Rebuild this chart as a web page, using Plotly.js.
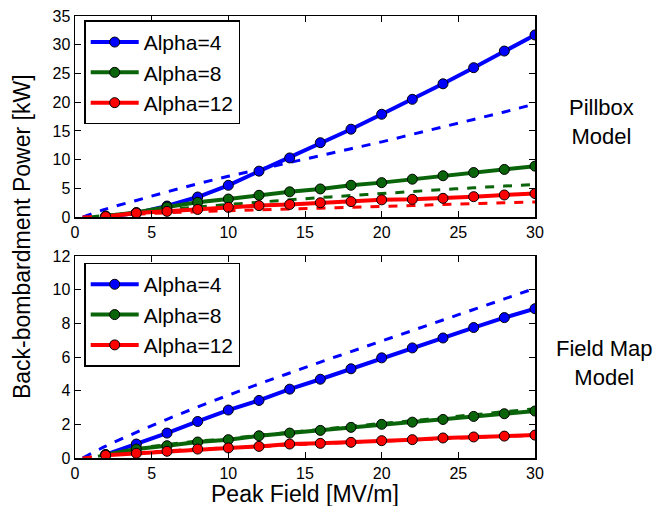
<!DOCTYPE html>
<html>
<head>
<meta charset="utf-8">
<script src="https://cdn.plot.ly/plotly-3.0.1.min.js"></script>
<style>html,body{margin:0;padding:0;background:#fff;}#chart{width:659px;height:506px;}</style>
</head>
<body>
<div id="chart"></div>
<script>
// Peak field sample points (MV/m)
const fieldPts = [2,4,6,8,10,12,14,16,18,20,22,24,26,28,30];

// Pillbox model (top panel), solid lines with markers
const pill_a4  = [0.1,0.7,1.93,3.5,5.54,8.0,10.3,12.95,15.3,17.9,20.5,23.2,26.0,28.9,31.7];
const pill_a8  = [0.2,0.8,1.75,2.57,3.15,3.8,4.4,4.9,5.54,6.0,6.6,7.2,7.76,8.3,8.87];
const pill_a12 = [0.1,0.7,1.0,1.34,1.7,2.0,2.2,2.5,2.7,3.0,3.1,3.27,3.56,3.85,4.1];

// Pillbox model, dashed curves
const pillDashX_a4  = [0.5,2,4,6,8,10,12,14,16,18,20,22,24,26,28,30];
const pillDash_a4   = [0,1.4,2.9,4.4,5.8,7.1,8.3,9.5,10.7,11.9,13.1,14.4,15.7,17.0,18.3,19.7];
const pillDashX_a8  = [1,2,4,6,8,10,12,14,16,18,20,22,24,26,28,30];
const pillDash_a8   = [0,0.3,0.8,1.3,1.75,2.2,2.6,3.0,3.4,3.75,4.1,4.45,4.8,5.1,5.4,5.67];
const pillDashX_a12 = [0.5,2,4,6,8,10,12,14,16,18,20,22,24,26,28,30];
const pillDash_a12  = [0,0.2,0.5,0.75,0.95,1.1,1.25,1.4,1.55,1.7,1.87,2.0,2.2,2.35,2.5,2.63];

// Field map model (bottom panel), solid lines with markers
const fmap_a4  = [0.2,0.83,1.48,2.17,2.85,3.42,4.09,4.68,5.3,5.95,6.54,7.13,7.75,8.34,8.87];
const fmap_a8  = [0.2,0.53,0.73,0.95,1.09,1.32,1.48,1.64,1.82,2.0,2.13,2.29,2.47,2.63,2.79];
const fmap_a12 = [0.16,0.28,0.4,0.53,0.6,0.69,0.83,0.87,0.93,1.03,1.09,1.19,1.25,1.3,1.36];

// Field map model, dashed curves
const fmapDashX_a4  = [0.5,2,4,6,8,10,12,14,16,18,20,22,24,26,28,30];
const fmapDash_a4   = [0,0.7,1.52,2.3,3.03,3.73,4.4,5.05,5.7,6.32,6.95,7.57,8.2,8.82,9.45,10.08];
const fmapDashX_a8  = [1.5,2,4,6,8,10,12,14,16,18,20,22,24,26,28,30];
const fmapDash_a8   = [0.1,0.2,0.55,0.8,1.0,1.15,1.35,1.52,1.7,1.88,2.05,2.22,2.4,2.57,2.75,2.92];
const fmapDashX_a12 = [0.5,2,4,6,8,10,12,14,16,18,20,22,24,26,28,30];
const fmapDash_a12  = [0,0.15,0.3,0.42,0.52,0.6,0.68,0.78,0.85,0.93,1.0,1.08,1.15,1.22,1.29,1.35];

const seriesNames = ['Alpha=4','Alpha=8','Alpha=12'];
const colors = ['#0000ff','#0a640a','#ff0000'];

const FONT = 'Liberation Sans, Arial, sans-serif';

function solid(x, y, i, xa, ya, leg) {
  return {x: x, y: y, xaxis: xa, yaxis: ya, type: 'scatter', mode: 'lines+markers',
    name: seriesNames[i], legend: leg, showlegend: true,
    line: {color: colors[i], width: 4},
    marker: {color: colors[i], size: 10, line: {color: '#000', width: 1}}};
}
function dashed(x, y, i, xa, ya) {
  return {x: x, y: y, xaxis: xa, yaxis: ya, type: 'scatter', mode: 'lines',
    showlegend: false, hoverinfo: 'skip',
    line: {color: colors[i], width: 3, dash: 'dash', shape: 'spline'}};
}

const traces = [
  dashed(pillDashX_a4, pillDash_a4, 0, 'x', 'y'),
  dashed(pillDashX_a8, pillDash_a8, 1, 'x', 'y'),
  dashed(pillDashX_a12, pillDash_a12, 2, 'x', 'y'),
  solid(fieldPts, pill_a4, 0, 'x', 'y', 'legend'),
  solid(fieldPts, pill_a8, 1, 'x', 'y', 'legend'),
  solid(fieldPts, pill_a12, 2, 'x', 'y', 'legend'),
  dashed(fmapDashX_a4, fmapDash_a4, 0, 'x2', 'y2'),
  dashed(fmapDashX_a8, fmapDash_a8, 1, 'x2', 'y2'),
  dashed(fmapDashX_a12, fmapDash_a12, 2, 'x2', 'y2'),
  solid(fieldPts, fmap_a4, 0, 'x2', 'y2', 'legend2'),
  solid(fieldPts, fmap_a8, 1, 'x2', 'y2', 'legend2'),
  solid(fieldPts, fmap_a12, 2, 'x2', 'y2', 'legend2')
];

const axisCommon = {
  showline: true, linecolor: '#000', linewidth: 1.5, mirror: 'allticks',
  ticks: 'inside', ticklen: 6, tickwidth: 1, tickcolor: '#000',
  showgrid: false, zeroline: false,
  tickfont: {family: FONT, size: 16, color: '#000'}
};

const legendCommon = {
  bgcolor: '#fff', bordercolor: '#000', borderwidth: 1.5,
  font: {family: FONT, size: 21, color: '#000'},
  xanchor: 'left', yanchor: 'top', itemwidth: 48, tracegroupgap: 0
};

const layout = {
  width: 659, height: 506,
  margin: {l: 75, r: 124, t: 16, b: 48},
  paper_bgcolor: '#fff', plot_bgcolor: '#fff',
  font: {family: FONT, color: '#000'},
  xaxis: Object.assign({}, axisCommon, {range: [0, 30], dtick: 5, anchor: 'y', domain: [0, 1]}),
  yaxis: Object.assign({}, axisCommon, {range: [0, 35], dtick: 5, anchor: 'x', domain: [0.545, 1]}),
  xaxis2: Object.assign({}, axisCommon, {range: [0, 30], dtick: 5, anchor: 'y2', domain: [0, 1]}),
  yaxis2: Object.assign({}, axisCommon, {range: [0, 12], dtick: 2, anchor: 'x2', domain: [0, 0.457]}),
  showlegend: true,
  legend: Object.assign({}, legendCommon, {x: 0.02, y: 0.99}),
  legend2: Object.assign({}, legendCommon, {x: 0.02, y: 0.442}),
  annotations: [
    {text: 'Peak Field [MV/m]', xref: 'paper', yref: 'paper',
     x: 0.5, y: -0.082, xanchor: 'center', yanchor: 'middle', showarrow: false,
     font: {family: FONT, size: 23, color: '#000'}},
    {text: 'Back-bombardment Power [kW]', xref: 'paper', yref: 'paper',
     x: -0.115, y: 0.5, xanchor: 'center', yanchor: 'middle', textangle: -90, showarrow: false,
     font: {family: FONT, size: 23, color: '#000'}},
    {text: 'Pillbox<br>Model', xref: 'paper', yref: 'paper',
     x: 1.145, y: 0.76, xanchor: 'center', yanchor: 'middle', showarrow: false,
     font: {family: FONT, size: 22, color: '#000'}},
    {text: 'Field Map<br>Model', xref: 'paper', yref: 'paper',
     x: 1.15, y: 0.215, xanchor: 'center', yanchor: 'middle', showarrow: false,
     font: {family: FONT, size: 22, color: '#000'}}
  ]
};

Plotly.newPlot('chart', traces, layout, {staticPlot: true, displayModeBar: false});
</script>
</body>
</html>
